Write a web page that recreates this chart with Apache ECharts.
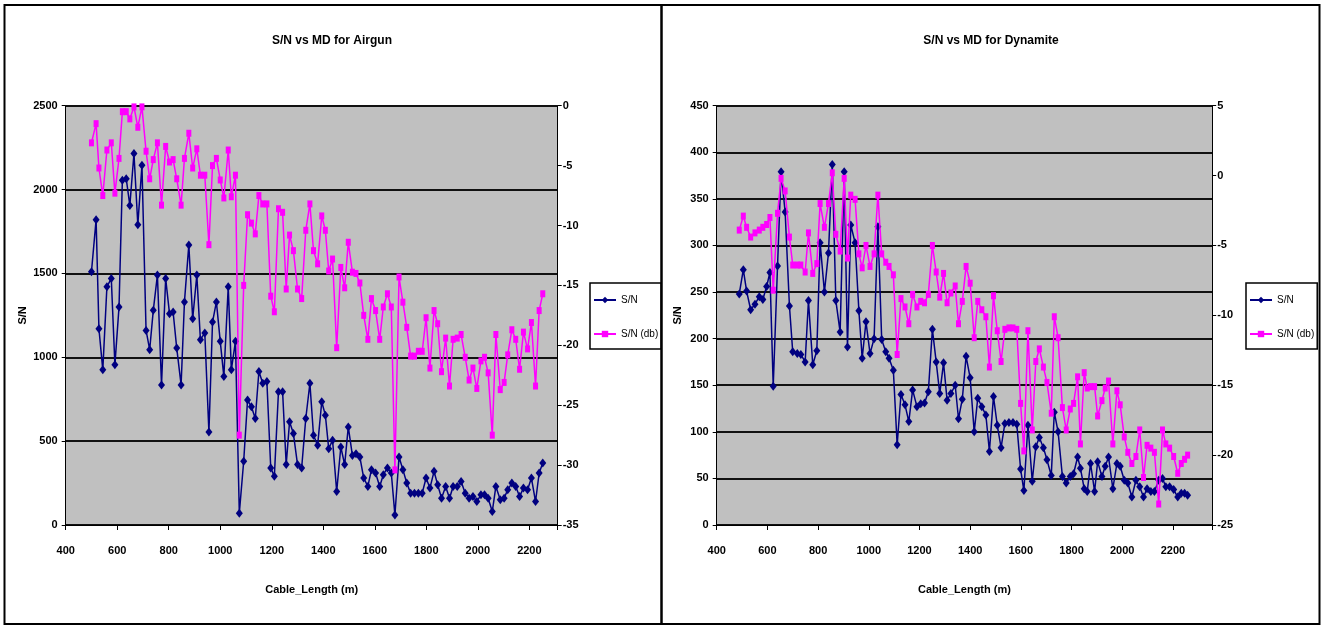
<!DOCTYPE html>
<html>
<head>
<meta charset="utf-8">
<script src="https://cdn.jsdelivr.net/npm/echarts@6/dist/echarts.min.js"></script>
<style>
  html, body { margin: 0; padding: 0; background: #fff; }
  #chart { width: 1325px; height: 627px; }
</style>
</head>
<body>
<div id="chart"></div>
<script>
// Cable length (m) of each recorded trace, airgun source
const airgunLength = [500, 518, 529, 544, 560, 577, 591, 607, 620, 635, 649, 665, 680, 696, 712, 726, 740, 756, 772, 788,
  803, 817, 831, 848, 861, 878, 893, 909, 923, 940, 956, 970, 985, 1000, 1014, 1031, 1043, 1059, 1074, 1091,
  1106, 1121, 1136, 1150, 1165, 1181, 1196, 1210, 1226, 1242, 1256, 1269, 1284, 1300, 1316, 1332, 1348, 1362, 1378,
  1394, 1408, 1421, 1436, 1452, 1468, 1483, 1497, 1513, 1527, 1542, 1557, 1573, 1587, 1603, 1619, 1633, 1649, 1664,
  1678, 1694, 1709, 1724, 1739, 1754, 1769, 1784, 1799, 1814, 1830, 1844, 1859, 1875, 1890, 1904, 1920, 1935, 1951,
  1966, 1981, 1996, 2012, 2026, 2040, 2056, 2070, 2087, 2102, 2116, 2132, 2147, 2162, 2177, 2193, 2208, 2224, 2238, 2252];

// Airgun S/N ratio
const airgunSN = [1510, 1820, 1170, 925, 1420, 1470, 955, 1300, 2055, 2065, 1905, 2215, 1790, 2145, 1160, 1045, 1280, 1490, 835, 1470,
  1260, 1270, 1055, 835, 1330, 1670, 1230, 1490, 1105, 1145, 555, 1210, 1330, 1095, 885, 1420, 925, 1095, 70, 380,
  745, 705, 635, 915, 845, 855, 340, 290, 795, 795, 360, 615, 545, 360, 340, 635, 845, 535, 475,
  735, 655, 455, 505, 200, 465, 360, 585, 415, 425, 405, 280, 230, 330, 310, 230, 300, 340, 310, 60,
  405, 330, 250, 190, 190, 190, 190, 280, 220, 320, 240, 160, 230, 160, 230, 230, 260, 190, 160, 170,
  140, 180, 180, 160, 80, 230, 150, 160, 210, 250, 230, 170, 220, 210, 280, 140, 310, 370];

// Airgun S/N in dB
const airgunSNdb = [-3.1, -1.5, -5.2, -7.5, -3.7, -3.1, -7.3, -4.4, -0.5, -0.5, -1.1, -0.1, -1.8, -0.1, -3.8, -6.1, -4.5, -3.1, -8.3, -3.4,
  -4.7, -4.5, -6.1, -8.3, -4.4, -2.3, -5.2, -3.6, -5.8, -5.8, -11.6, -5.0, -4.4, -6.2, -7.7, -3.7, -7.6, -5.8, -27.5, -15.0,
  -9.1, -9.8, -10.7, -7.5, -8.2, -8.2, -15.9, -17.2, -8.6, -8.9, -15.3, -10.8, -12.1, -15.3, -16.1, -10.4, -8.2, -12.1, -13.2,
  -9.2, -10.4, -13.8, -12.8, -20.2, -13.5, -15.2, -11.4, -13.9, -14.0, -14.8, -17.5, -19.5, -16.1, -17.1, -19.5, -16.8, -15.7, -16.8, -30.4,
  -14.3, -16.4, -18.5, -20.9, -20.9, -20.5, -20.5, -17.7, -21.9, -17.1, -18.2, -22.2, -19.4, -23.4, -19.5, -19.4, -19.1, -21.0, -22.9, -21.9,
  -23.6, -21.3, -21.0, -22.3, -27.5, -19.1, -23.7, -23.1, -20.8, -18.7, -19.5, -22.0, -18.9, -20.3, -18.1, -23.4, -17.1, -15.7];

// Cable length (m) of each recorded trace, dynamite source
const dynamiteLength = [489, 505, 518, 534, 551, 568, 582, 597, 610, 623, 640, 654, 670, 687, 700, 718, 732, 749, 762, 779,
  795, 808, 825, 841, 856, 870, 887, 903, 916, 929, 946, 961, 974, 989, 1005, 1021, 1036, 1051, 1067, 1080,
  1097, 1112, 1127, 1143, 1158, 1173, 1190, 1205, 1220, 1235, 1251, 1266, 1280, 1295, 1309, 1324, 1341, 1354, 1369, 1384,
  1400, 1416, 1430, 1446, 1462, 1476, 1492, 1507, 1522, 1537, 1553, 1569, 1584, 1599, 1612, 1628, 1645, 1659, 1673, 1689,
  1703, 1720, 1732, 1747, 1764, 1779, 1795, 1808, 1824, 1835, 1850, 1862, 1875, 1891, 1903, 1920, 1933, 1946, 1963, 1979,
  1992, 2008, 2022, 2038, 2054, 2069, 2084, 2098, 2113, 2127, 2144, 2159, 2172, 2187, 2203, 2219, 2233, 2246, 2258];

// Dynamite S/N ratio
const dynamiteSN = [248, 274, 251, 231, 237, 245, 242, 256, 271, 149, 278, 379, 336, 235, 186, 184, 183, 175, 241, 172,
  187, 303, 250, 292, 387, 241, 207, 379, 191, 322, 303, 230, 179, 218, 184, 200, 320, 199, 186, 179,
  166, 86, 140, 129, 111, 145, 127, 130, 131, 143, 210, 175, 141, 174, 134, 141, 150, 114, 135, 181,
  158, 100, 136, 127, 118, 79, 138, 107, 83, 109, 110, 110, 108, 60, 37, 107, 47, 84, 94, 83,
  70, 53, 121, 100, 52, 45, 52, 55, 73, 61, 39, 36, 66, 36, 68, 52, 63, 73, 39, 66,
  63, 48, 45, 30, 48, 41, 30, 39, 36, 36, 48, 50, 41, 41, 38, 30, 34, 34, 32];

// Dynamite S/N in dB
const dynamiteSNdb = [-3.9, -2.9, -3.7, -4.4, -4.1, -3.9, -3.7, -3.5, -3.0, -8.2, -2.7, -0.2, -1.1, -4.4, -6.4, -6.4, -6.4, -6.9, -4.1, -7.0,
  -6.3, -2.0, -3.7, -2.0, 0.2, -4.2, -5.4, -0.2, -5.9, -1.4, -1.7, -5.6, -6.6, -5.0, -6.5, -5.6, -1.4, -5.6, -6.2, -6.5,
  -7.1, -12.8, -8.8, -9.4, -10.6, -8.5, -9.4, -9.0, -9.1, -8.5, -5.0, -6.9, -8.7, -7.0, -9.1, -8.4, -7.9, -10.6, -9.0, -6.5,
  -7.7, -11.6, -9.0, -9.6, -10.1, -13.7, -8.6, -11.1, -13.3, -11.0, -10.9, -10.9, -11.0, -16.3, -19.7, -11.1, -18.2, -13.3, -12.4, -13.7,
  -14.8, -17.0, -10.1, -11.6, -16.6, -18.2, -16.7, -16.3, -14.4, -19.2, -14.1, -15.2, -15.1, -15.1, -17.2, -16.1, -15.2, -14.7, -19.2, -15.4,
  -16.4, -18.7, -19.8, -20.6, -20.1, -18.2, -21.6, -19.3, -19.5, -19.8, -23.5, -18.2, -19.2, -19.5, -20.1, -21.3, -20.6, -20.3, -20.0];

// Tick labels of the axes
const lengthTicks = [400, 600, 800, 1000, 1200, 1400, 1600, 1800, 2000, 2200];
const airgunSNTicks = [0, 500, 1000, 1500, 2000, 2500];
const airgunDbTicks = [-35, -30, -25, -20, -15, -10, -5, 0];
const dynamiteSNTicks = [0, 50, 100, 150, 200, 250, 300, 350, 400, 450];
const dynamiteDbTicks = [-25, -20, -15, -10, -5, 0, 5];

// Far end of each cable-length axis
const airgunLengthEnd = 2310;
const dynamiteLengthEnd = 2355;

const FONT = "'Liberation Sans', Arial, sans-serif";
const NAVY = '#000080';
const MAGENTA = '#FF00FF';

const pairs = (xs, ys) => xs.map((x, i) => [x, ys[i]]);
const step = t => t[1] - t[0];
const plain = v => String(v);

const panels = [
  {
    title: 'S/N vs MD for Airgun',
    length: airgunLength, sn: airgunSN, db: airgunSNdb,
    snTicks: airgunSNTicks, dbTicks: airgunDbTicks, lengthEnd: airgunLengthEnd,
    gridLeft: 65.7, gridWidth: 492, titleX: 332, legendLeft: 590, yNameGap: 37
  },
  {
    title: 'S/N vs MD for Dynamite',
    length: dynamiteLength, sn: dynamiteSN, db: dynamiteSNdb,
    snTicks: dynamiteSNTicks, dbTicks: dynamiteDbTicks, lengthEnd: dynamiteLengthEnd,
    gridLeft: 716.7, gridWidth: 495.5, titleX: 991, legendLeft: 1246, yNameGap: 33
  }
];

const labelStyle = { color: '#000', fontFamily: FONT, fontSize: 11, fontWeight: 'bold' };
const blackLine = { color: '#000', width: 1 };

const option = {
  backgroundColor: '#fff',
  animation: false,
  title: [], grid: [], xAxis: [], yAxis: [], series: [], legend: [],
  graphic: [
    { type: 'rect', silent: true, z: 100, shape: { x: 4.5, y: 5, width: 657, height: 619 },
      style: { fill: 'none', stroke: '#000', lineWidth: 2 } },
    { type: 'rect', silent: true, z: 100, shape: { x: 661.5, y: 5, width: 658, height: 619 },
      style: { fill: 'none', stroke: '#000', lineWidth: 2 } }
  ]
};

panels.forEach((p, i) => {
  option.title.push({
    text: p.title, left: p.titleX, top: 35, padding: 0, textAlign: 'center',
    textStyle: { color: '#000', fontFamily: FONT, fontSize: 12, fontWeight: 'bold' }
  });
  option.grid.push({
    left: p.gridLeft, top: 105.7, width: p.gridWidth, height: 419.3,
    show: true, backgroundColor: '#C0C0C0', borderWidth: 0
  });
  option.xAxis.push({
    gridIndex: i, type: 'value',
    min: lengthTicks[0], max: p.lengthEnd, interval: step(lengthTicks),
    name: 'Cable_Length (m)', nameLocation: 'middle', nameGap: 59,
    nameTextStyle: { color: '#000', fontFamily: FONT, fontSize: 11, fontWeight: 'bold' },
    axisLine: { show: true, onZero: false, lineStyle: blackLine },
    axisTick: { show: true, length: 5, lineStyle: blackLine },
    axisLabel: Object.assign({ margin: 20, formatter: v => lengthTicks.includes(v) ? String(v) : '' }, labelStyle),
    splitLine: { show: false }
  });
  option.yAxis.push({
    gridIndex: i, type: 'value', position: 'left',
    min: p.snTicks[0], max: p.snTicks[p.snTicks.length - 1], interval: step(p.snTicks),
    name: 'S/N', nameLocation: 'middle', nameGap: p.yNameGap, nameRotate: 90,
    nameTextStyle: { color: '#000', fontFamily: FONT, fontSize: 11, fontWeight: 'bold' },
    axisLine: { show: true, onZero: false, lineStyle: blackLine },
    axisTick: { show: true, length: 4, lineStyle: blackLine },
    axisLabel: Object.assign({ margin: 8, formatter: plain }, labelStyle),
    splitLine: { show: true, lineStyle: { color: '#111', width: 2 } }
  });
  option.yAxis.push({
    gridIndex: i, type: 'value', position: 'right',
    min: p.dbTicks[0], max: p.dbTicks[p.dbTicks.length - 1], interval: step(p.dbTicks),
    axisLine: { show: true, onZero: false, lineStyle: blackLine },
    axisTick: { show: true, length: 4, lineStyle: blackLine },
    axisLabel: Object.assign({ margin: 5, formatter: plain }, labelStyle),
    splitLine: { show: false }
  });
  option.series.push({
    name: 'S/N', type: 'line', xAxisIndex: i, yAxisIndex: 2 * i,
    data: pairs(p.length, p.sn),
    symbol: 'diamond', symbolSize: [7, 9], showSymbol: true,
    itemStyle: { color: NAVY }, lineStyle: { color: NAVY, width: 1.5 }, z: 3
  });
  option.series.push({
    name: 'S/N (db)', type: 'line', xAxisIndex: i, yAxisIndex: 2 * i + 1,
    data: pairs(p.length, p.db),
    symbol: 'rect', symbolSize: [5, 7], showSymbol: true,
    itemStyle: { color: MAGENTA }, lineStyle: { color: MAGENTA, width: 1.5 }, z: 4
  });
  option.legend.push({
    data: ['S/N', 'S/N (db)'], orient: 'vertical',
    left: p.legendLeft, top: 283,
    backgroundColor: '#fff', borderColor: '#000', borderWidth: 1.5,
    padding: [12, 3, 10, 3], itemGap: 24, itemWidth: 22, itemHeight: 8,
    textStyle: { color: '#000', fontFamily: FONT, fontSize: 10 }
  });
});

const chart = echarts.init(document.getElementById('chart'), null, { renderer: 'canvas' });
chart.setOption(option);
</script>
</body>
</html>
